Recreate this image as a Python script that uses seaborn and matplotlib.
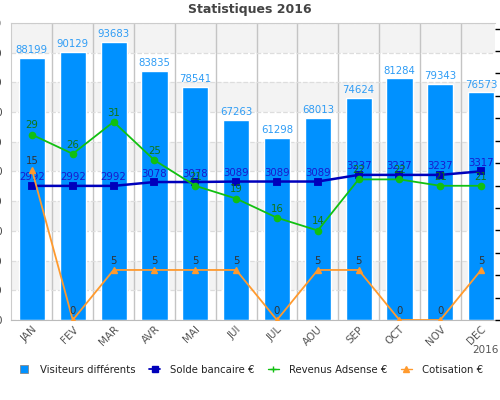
import numpy as np
import pandas as pd
import seaborn as sns
import matplotlib.pyplot as plt
from matplotlib.lines import Line2D

# donnees
mois = ['JAN', 'FEV', 'MAR', 'AVR', 'MAI', 'JUI', 'JUL', 'AOU', 'SEP', 'OCT', 'NOV', 'DEC']
visiteurs = [88199, 90129, 93683, 83835, 78541, 67263, 61298, 68013, 74624, 81284, 79343, 76573]
solde = [2992, 2992, 2992, 3078, 3078, 3089, 3089, 3089, 3237, 3237, 3237, 3317]
adsense = [29, 26, 31, 25, 21, 19, 16, 14, 22, 22, 21, 21]
cotisation = [15, 0, 5, 5, 5, 5, 0, 5, 5, 0, 0, 5]
graduations = list(range(0, 100001, 10000))

df = pd.DataFrame({'mois': mois, 'visiteurs': visiteurs, 'solde': solde,
                   'adsense': adsense, 'cotisation': cotisation})

sns.set_style('white')
plt.rcParams['font.family'] = ['DejaVu Sans']

fig = plt.figure(figsize=(5, 4), dpi=100)
ax = fig.add_axes([0.0214, 0.2, 0.9686, 0.743])

c_bar = '#0091ff'
c_solde = '#0000bb'
c_ads = '#11c011'
c_cot = '#ff9a2e'

# bandes grises alternees
for y0 in [10000, 30000, 50000, 70000, 90000]:
    ax.axhspan(y0, y0 + 10000, color='#f3f3f3', zorder=0, lw=0)

sns.barplot(data=df, x='mois', y='visiteurs', color=c_bar, width=0.64,
            saturation=1, ax=ax, zorder=2)
for i, v in enumerate(visiteurs):
    ax.annotate(str(v), (i, v), xytext=(0, 2), textcoords='offset points',
                ha='center', va='bottom', color='#2e9cf5', fontsize=7.3, zorder=5)

ax.set_ylim(0, 100000)
ax.set_yticks(graduations)
ax.set_yticklabels([str(g) for g in graduations], fontsize=7.5, color='#444444')
ax.tick_params(axis='y', length=0, pad=6)
ax.yaxis.grid(True, color='#dddddd', ls='--', lw=0.9)
ax.set_xticks(np.arange(0.5, 11, 1), minor=True)
ax.xaxis.grid(True, which='minor', color='#c4c4c4', lw=1)
ax.set_axisbelow(True)
ax.set_xlabel('')
ax.set_ylabel('')
ax.tick_params(axis='x', length=0, pad=3)
for s in ['left', 'top']:
    ax.spines[s].set_color('#cccccc')
ax.spines['bottom'].set_color('#bbbbbb')
ax.spines['right'].set_visible(False)

# solde bancaire (axe de droite)
ax2 = ax.twinx()
sns.pointplot(data=df, x='mois', y='solde', color=c_solde, markers='s',
              linewidth=1.8, markersize=4, ax=ax2)
ax2.set_ylim(0, 6630)
ax2.set_yticks(np.arange(0, 6501, 500))
ax2.set_yticklabels([''] * 14)
ax2.tick_params(axis='y', length=5, width=1, color='black', direction='out')
ax2.set_ylabel('')
for i, v in enumerate(solde):
    ax2.annotate(str(v), (i, v), xytext=(0, 2.5), textcoords='offset points',
                 ha='center', va='bottom', color='#1a1acc', fontsize=7.3)

# revenus adsense
ax3 = ax.twinx()
sns.pointplot(data=df, x='mois', y='adsense', color=c_ads, markers='o',
              linewidth=1.3, markersize=4.5, ax=ax3)
ax3.set_ylim(0, 46.5)
for i, v in enumerate(adsense):
    ax3.annotate(str(v), (i, v), xytext=(0, 3), textcoords='offset points',
                 ha='center', va='bottom', color='#117711', fontsize=7.3)

# cotisation
ax4 = ax.twinx()
sns.pointplot(data=df, x='mois', y='cotisation', color=c_cot, markers='^',
              linewidth=1.3, markersize=5, ax=ax4)
ax4.set_ylim(0, 29.7)
for i, v in enumerate(cotisation):
    ax4.annotate(str(v), (i, v), xytext=(0, 3), textcoords='offset points',
                 ha='center', va='bottom', color='#333333', fontsize=7.3)

for a in [ax3, ax4]:
    a.set_yticks([])
    a.set_ylabel('')
for a in [ax2, ax3, ax4]:
    for s in a.spines.values():
        s.set_visible(False)
    a.set_xlabel('')
for a in [ax, ax2, ax3, ax4]:
    a.set_xlim(-0.52, 11.34)
ax.set_xticks(range(12))
ax.set_xticklabels(mois, rotation=45, ha='right', rotation_mode='anchor',
                   fontsize=7.5, color='#555555')

fig.text(0.5, 0.975, 'Statistiques 2016', ha='center', va='center',
         fontsize=9, fontweight='bold', color='#444444')
fig.text(0.998, 0.125, '2016', ha='right', va='center', fontsize=7.5, color='#555555')

handles = [
    Line2D([], [], ls='none', marker='s', markersize=5.5, markerfacecolor=c_bar,
           markeredgecolor='#888888', markeredgewidth=0.6),
    Line2D([], [], color=c_solde, marker='s', markersize=4, lw=1.3),
    Line2D([], [], color=c_ads, marker='+', markersize=4, lw=1),
    Line2D([], [], color=c_cot, marker='^', markersize=5, lw=1),
]
labels = ['Visiteurs différents', 'Solde bancaire €', 'Revenus Adsense €', 'Cotisation €']
fig.legend(handles, labels, loc='center', bbox_to_anchor=(0.502, 0.075), ncol=4,
           frameon=False, fontsize=7.3, handlelength=1.1, handletextpad=1.0,
           columnspacing=1.3, labelcolor='#222222')

fig.savefig('out.png', dpi=100)
